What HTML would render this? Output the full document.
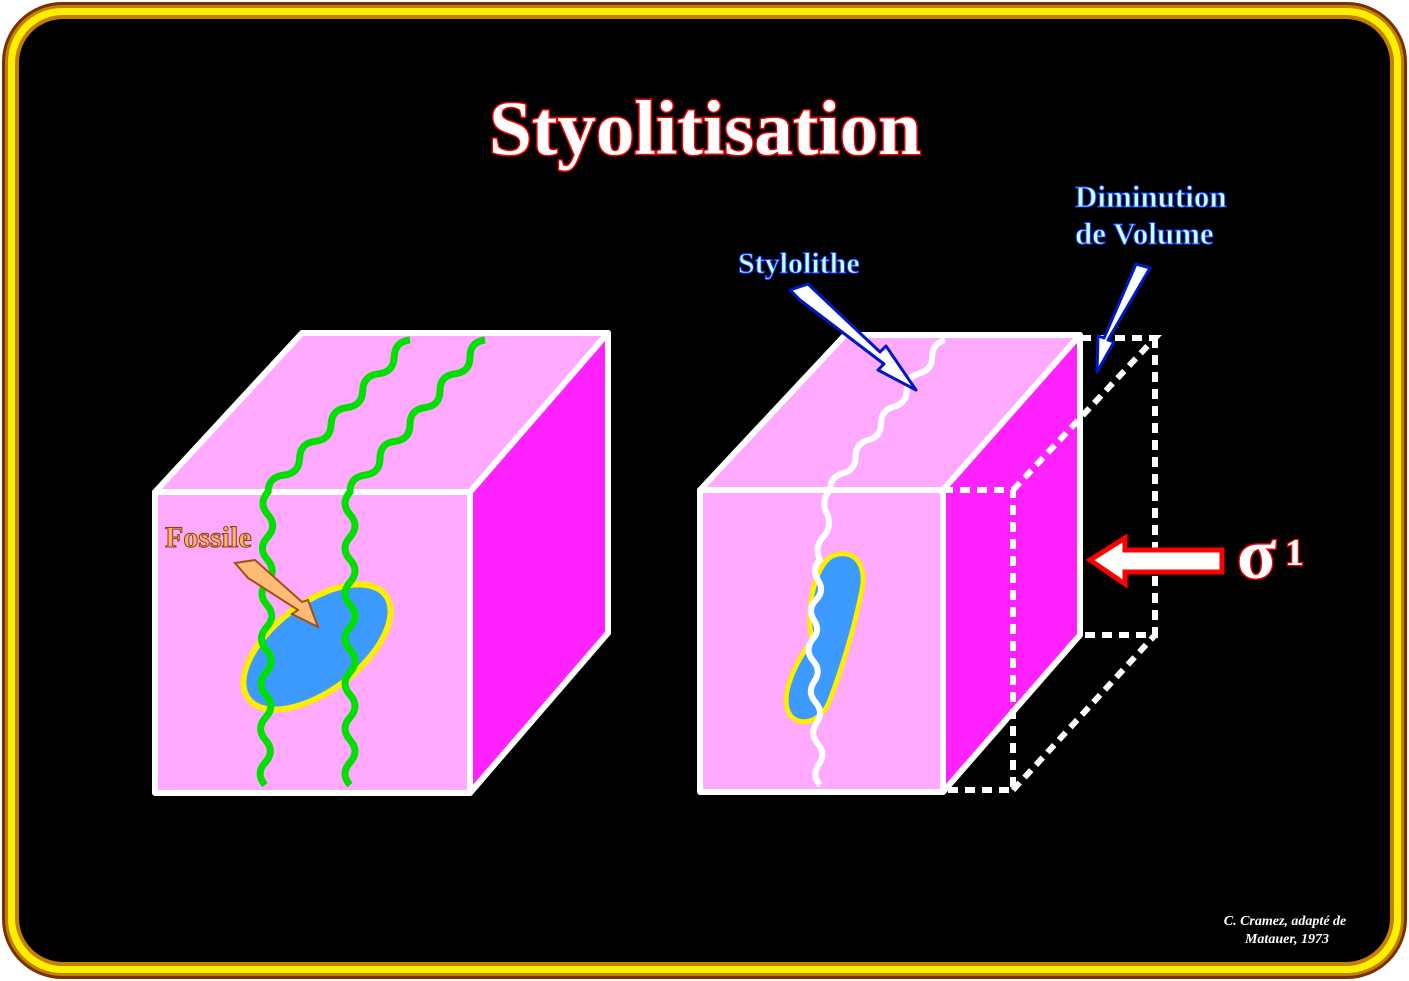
<!DOCTYPE html>
<html><head><meta charset="utf-8"><style>
html,body{margin:0;padding:0;background:#fff;}
svg{display:block}
text{font-family:"Liberation Serif",serif;font-weight:bold}
</style></head><body>
<svg width="1409" height="981" viewBox="0 0 1409 981" xmlns="http://www.w3.org/2000/svg">
<rect x="2" y="2" width="1405" height="977" rx="60" fill="#7a3000"/>
<rect x="5" y="5" width="1399" height="971" rx="57" fill="#c08000"/>
<rect x="8" y="8" width="1393" height="965" rx="54" fill="#ffee00"/>
<rect x="15" y="15" width="1379" height="951" rx="48" fill="#c08000"/>
<rect x="19" y="19" width="1371" height="943" rx="44" fill="#000"/>

<text x="705" y="154" font-size="77" text-anchor="middle" fill="#fff" stroke="#e00" stroke-width="3" paint-order="stroke">Styolitisation</text>

<!-- left cube -->
<g stroke="#fff" stroke-width="6" stroke-linejoin="round">
<polygon points="155,492 302,333 608,333 470,492" fill="#ffaaff"/>
<polygon points="470,492 608,333 608,633 470,793" fill="#ff22ff"/>
<rect x="155" y="492" width="315" height="301" fill="#ffaaff"/>
</g>
<ellipse cx="317" cy="647" rx="86" ry="44" transform="rotate(-37 317 647)" fill="#3d9bff" stroke="#ffee00" stroke-width="6"/>
<g id="waves" fill="none" stroke="#00e000" stroke-width="7"></g>
<polygon points="235,563 255,560 302,602 308,600 318,627 292,614 298,610 248,578" fill="#ffbb77" stroke="#a05010" stroke-width="2"/>
<text x="165" y="547" font-size="30" fill="#ffb070" stroke="#8a4000" stroke-width="1">Fossile</text>

<!-- right cube -->
<g stroke="#fff" stroke-width="6" stroke-linejoin="round">
<polygon points="700,490 845,335 1080,335 943,490" fill="#ffaaff"/>
<polygon points="943,490 1080,335 1080,635 943,792" fill="#ff22ff"/>
<rect x="700" y="490" width="243" height="302" fill="#ffaaff"/>
</g>
<path d="M832,556 C850,548 868,560 862,590 C855,625 845,660 830,700 C822,722 800,728 790,715 C780,700 790,670 812,640 C805,610 815,565 832,556Z" fill="#3d9bff" stroke="#ffee00" stroke-width="5"/>
<g fill="none" stroke="#fff" stroke-width="6" stroke-dasharray="10 7">
<path d="M943,490 H1013 V790 H943"/>
<path d="M1013,490 L1155,338 H1080"/>
<path d="M1155,338 V635 H1080"/>
<path d="M1013,790 L1155,635"/>
</g>
<g id="waves2" fill="none" stroke="#fff" stroke-width="6"></g>

<!-- Stylolithe arrow -->
<polygon points="790,290 808,284 880,352 886,346 916,390 878,370 884,364 800,300" fill="#fff" stroke="#0018c0" stroke-width="3" stroke-linejoin="round"/>
<text x="738" y="273" font-size="30" fill="#c8ffff" stroke="#1040ff" stroke-width="1">Stylolithe</text>
<!-- Diminution arrow -->
<polygon points="1136,264 1150,268 1108,340 1114,342 1097,372 1098,336 1104,338" fill="#fff" stroke="#0018c0" stroke-width="3" stroke-linejoin="round"/>
<text x="1075" y="207" font-size="31" fill="#c8ffff" stroke="#1040ff" stroke-width="1">Diminution</text>
<text x="1075" y="244" font-size="31" fill="#c8ffff" stroke="#1040ff" stroke-width="1">de Volume</text>

<!-- sigma arrow -->
<polygon points="1090,560 1125,538 1125,550 1222,550 1222,572 1125,572 1125,584" fill="#fff" stroke="#f00" stroke-width="5" stroke-linejoin="miter"/>
<text x="1237" y="578" font-size="72" fill="#fff" stroke="#e00" stroke-width="3" paint-order="stroke">σ</text>
<text x="1285" y="565" font-size="38" fill="#fff" stroke="#e00" stroke-width="2.5" paint-order="stroke">1</text>

<text x="1285" y="925" font-size="14" fill="#fff" text-anchor="middle" font-style="italic" font-weight="normal">C. Cramez, adapté de</text>
<text x="1287" y="943" font-size="14" fill="#fff" text-anchor="middle" font-style="italic" font-weight="normal">Matauer, 1973</text>
</svg>
<script>
function wave(pts,amp,step){
 let d='';
 for(let s=0;s<pts.length-1;s++){
  const [x1,y1]=pts[s],[x2,y2]=pts[s+1];
  const L=Math.hypot(x2-x1,y2-y1),n=Math.max(2,Math.round(L/step));
  const ux=(x2-x1)/L,uy=(y2-y1)/L,nx=-uy,ny=ux;
  if(s==0)d+='M'+x1+','+y1;
  for(let i=0;i<n;i++){
   const t0=i/n,t1=(i+1)/n,tm=(t0+t1)/2,a=(i%2?-1:1)*amp*2;
   const cx=x1+(x2-x1)*tm+nx*a,cy=y1+(y2-y1)*tm+ny*a;
   d+=' Q'+cx.toFixed(1)+','+cy.toFixed(1)+' '+(x1+(x2-x1)*t1).toFixed(1)+','+(y1+(y2-y1)*t1).toFixed(1);
  }
 }
 return d;
}
const g=document.getElementById('waves');
[[[410,340],[268,492],[265,785]],[[485,340],[350,492],[350,785]]].forEach(p=>{
 const e=document.createElementNS('http://www.w3.org/2000/svg','path');e.setAttribute('d',wave(p,5,22));g.appendChild(e);});
const g2=document.getElementById('waves2');
[[[945,340],[830,490],[820,560],[812,640],[820,785]]].forEach(p=>{
 const e=document.createElementNS('http://www.w3.org/2000/svg','path');e.setAttribute('d',wave(p,4,22));g2.appendChild(e);});
</script>
</body></html>
